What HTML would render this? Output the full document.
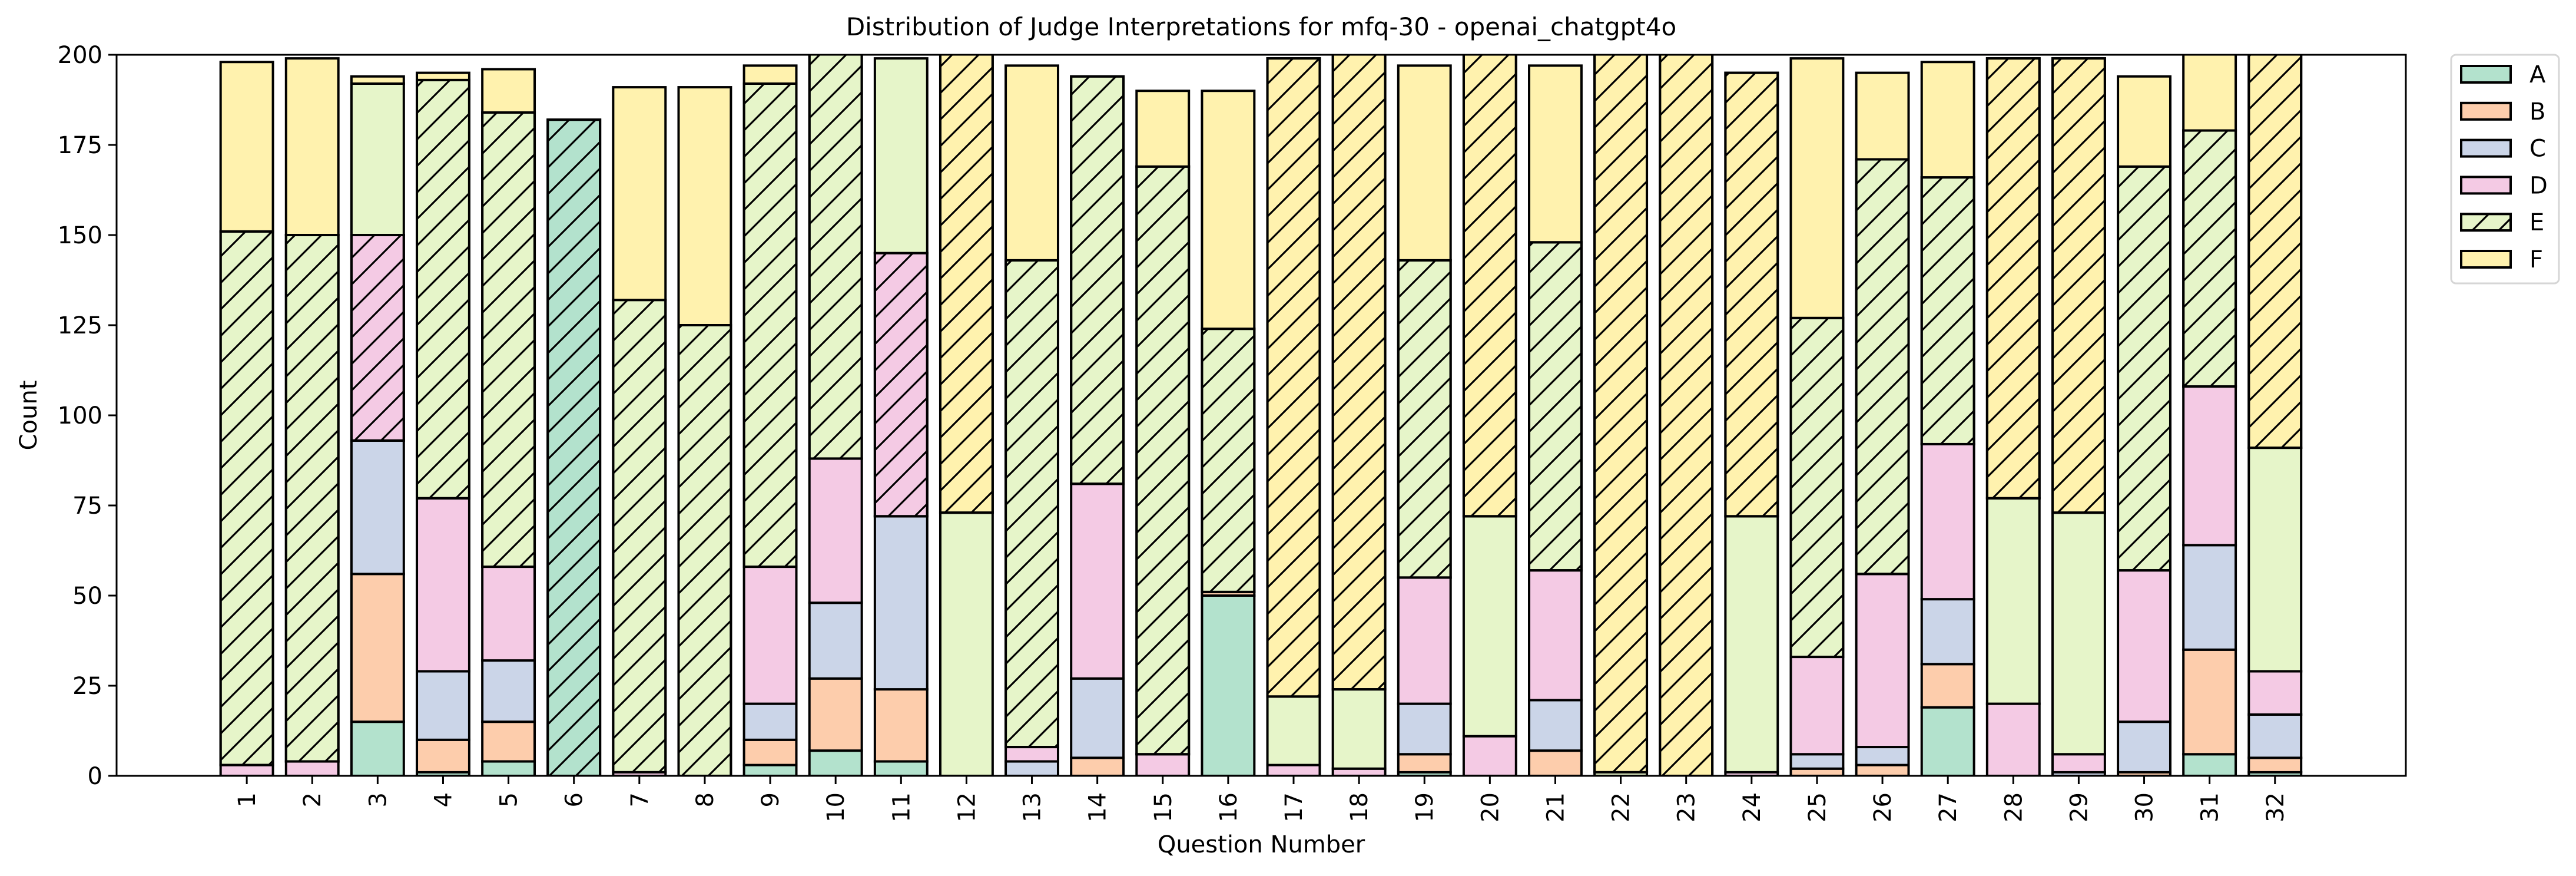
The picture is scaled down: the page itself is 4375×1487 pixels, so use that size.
<!DOCTYPE html>
<html><head><meta charset="utf-8"><style>
html,body{margin:0;padding:0;background:#fff;}
svg{display:block;font-family:"DejaVu Sans","Liberation Sans",sans-serif;}
</style></head><body>
<svg id="chart" width="4375" height="1487" viewBox="0 0 4375 1487" xmlns="http://www.w3.org/2000/svg">
<defs>
<pattern id="hatch" patternUnits="userSpaceOnUse" width="45" height="45">
<path d="M-5,5 L5,-5 M0,45 L45,0 M40,50 L50,40" stroke="#000" stroke-width="3.2"/>
</pattern>
<clipPath id="plotclip"><rect x="198" y="93" width="3888" height="1224"/></clipPath>
</defs>
<rect width="4375" height="1487" fill="#fff"/>
<text x="2142" y="60" font-size="42" text-anchor="middle">Distribution of Judge Interpretations for mfq-30 - openai_chatgpt4o</text>
<g id="bars" clip-path="url(#plotclip)"></g>
<g id="axes"></g>
<text x="62" y="705" font-size="40" text-anchor="middle" transform="rotate(-90 62 705)">Count</text>
<text x="2142" y="1447" font-size="40" text-anchor="middle">Question Number</text>
<g id="legend"></g>
</svg>
<script>
const categories = ["1","2","3","4","5","6","7","8","9","10","11","12","13","14","15","16","17","18","19","20","21","22","23","24","25","26","27","28","29","30","31","32"];
const seriesNames = ["A","B","C","D","E","F"];
const seriesA = [0,0,15,1,4,182,0,0,3,7,4,0,0,0,0,50,0,0,1,0,0,0,0,0,0,0,19,0,0,0,6,1];
const seriesB = [0,0,41,9,11,0,0,0,7,20,20,0,0,5,0,1,0,0,5,0,7,0,0,0,2,3,12,0,0,1,29,4];
const seriesC = [0,0,37,19,17,0,0,0,10,21,48,0,4,22,0,0,0,0,14,0,14,0,0,0,4,5,18,0,1,14,29,12];
const seriesD = [3,4,57,48,26,0,1,0,38,40,73,0,4,54,6,0,3,2,35,11,36,0,0,1,27,48,43,20,5,42,44,12];
const seriesE = [148,146,42,116,126,0,131,125,134,115,54,73,135,113,163,73,19,22,88,61,91,1,0,71,94,115,74,57,67,112,71,62];
const seriesF = [47,49,2,2,12,0,59,66,5,0,0,130,54,0,21,66,177,180,54,132,49,205,206,123,72,24,32,122,126,25,25,115];
const yTicks = [0,25,50,75,100,125,150,175,200];
const colors = ["#b3e2cd","#fdcdac","#cbd5e8","#f4cae4","#e6f5c9","#fff2ae"];
const series = [seriesA,seriesB,seriesC,seriesD,seriesE,seriesF];
const NS="http://www.w3.org/2000/svg";
const L=198,R=4086,T=93,B=1317,yMax=200;
const step=(R-L)/(categories.length+2.99);
const xPos=i=>L+step*(i+1.99);
const yPos=v=>B-(v/yMax)*(B-T);
const bw=step*0.8;
function mk(tag,attrs){const e=document.createElementNS(NS,tag);for(const k in attrs)e.setAttribute(k,attrs[k]);return e;}
const gb=document.getElementById('bars');
categories.forEach((c,i)=>{
  let vals=series.map(s=>s[i]);
  let mx=Math.max(...vals); let hi=vals.indexOf(mx);
  let base=0;
  vals.forEach((v,k)=>{
    if(v<=0)return;
    const y1=yPos(base+v),y0=yPos(base);
    const r=mk('rect',{x:xPos(i)-bw/2,y:y1,width:bw,height:y0-y1,fill:colors[k],stroke:'#000','stroke-width':4});
    
    
    gb.appendChild(r);
    if(k===hi){
      const h=mk('rect',{x:xPos(i)-bw/2,y:y1,width:bw,height:y0-y1,fill:'url(#hatch)',stroke:'#000','stroke-width':4});
      
      
      gb.appendChild(h);
    }
    base+=v;
  });
});
const ga=document.getElementById('axes');
const frame=mk('rect',{x:L,y:T,width:R-L,height:B-T,fill:'none',stroke:'#000','stroke-width':3});


ga.appendChild(frame);
yTicks.forEach(v=>{
  const y=yPos(v);
  ga.appendChild(mk('line',{x1:L-14,x2:L,y1:y,y2:y,stroke:'#000','stroke-width':3}));
  const t=mk('text',{x:L-24,y:y+14,'font-size':40,'text-anchor':'end'});
  
  
  t.textContent=v;ga.appendChild(t);
});
categories.forEach((c,i)=>{
  const x=xPos(i);
  ga.appendChild(mk('line',{x1:x,x2:x,y1:B,y2:B+14,stroke:'#000','stroke-width':3}));
  const t=mk('text',{x:x+14,y:B+28,'font-size':40,'text-anchor':'end',transform:`rotate(-90 ${x+14} ${B+28})`});
  
  
  t.textContent=c;ga.appendChild(t);
});
const gl=document.getElementById('legend');
const lb=mk('rect',{x:4163,y:93,width:183,height:388,rx:8,fill:'#fff',stroke:'#d6d6d6','stroke-width':3});


gl.appendChild(lb);
seriesNames.forEach((n,k)=>{
  const y=126+k*62.8;
  const p=mk('rect',{x:4180,y:y-14,width:84,height:28,fill:colors[k],stroke:'#000','stroke-width':4});
  
  
  gl.appendChild(p);
  if(k===4){gl.appendChild(mk('rect',{x:4180,y:y-14,width:84,height:28,fill:'url(#hatch)',stroke:'#000','stroke-width':4}));}
  const t=mk('text',{x:4296,y:y+14,'font-size':40});
  
  
  t.textContent=n;gl.appendChild(t);
});
</script>
</body></html>
